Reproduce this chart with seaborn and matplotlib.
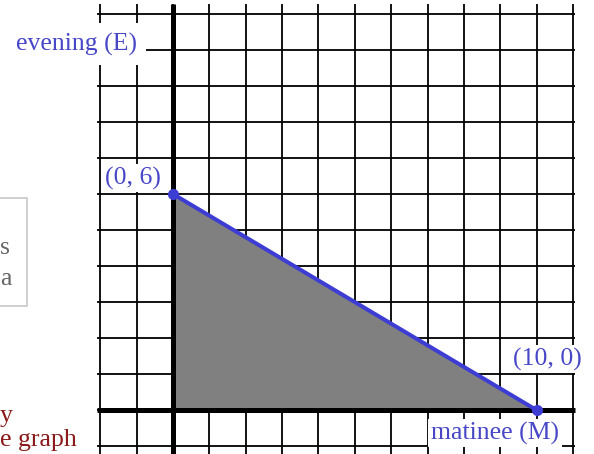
import matplotlib
matplotlib.use("Agg")
import matplotlib.pyplot as plt
import matplotlib.patches as mpatches
import seaborn as sns
import pandas as pd

# ---- data ----
matinee = [0, 10]          # M values of the boundary line endpoints
evening = [6, 0]           # E values of the boundary line endpoints
point_labels = ["(0, 6)", "(10, 0)"]
grid_x = list(range(-2, 12))
grid_y = list(range(-1, 12))
x_label = "matinee (M)"
y_label = "evening (E)"

sns.set_theme(style="white")
plt.rcParams['font.family'] = ['Liberation Serif', 'DejaVu Serif']

W, H = 594, 454
fig = plt.figure(figsize=(W / 100, H / 100), dpi=100)
ax = fig.add_axes([0, 0, 1, 1])
ax.set_xlim(-4.76, 11.58)
ax.set_ylim(-1.22, 11.39)
ax.axis("off")

def fx(px):
    return px / W

def fy(py):
    return 1 - py / H

# grid
for gx in grid_x:
    ax.plot([gx, gx], [-1.5, 11.28], color="black", lw=1.3, zorder=1,
            solid_capstyle="butt")
for gy in grid_y:
    ax.plot([-2.08, 11.06], [gy, gy], color="black", lw=1.3, zorder=1,
            solid_capstyle="butt")

# shaded feasible region
ax.fill_between(matinee, evening, 0, color="#808080", zorder=2, lw=0)

# thick axes
ax.plot([0, 0], [-1.5, 11.28], color="black", lw=3.6, zorder=3,
        solid_capstyle="butt")
ax.plot([-2.08, 11.06], [0, 0], color="black", lw=3.6, zorder=3,
        solid_capstyle="butt")

# boundary line
df = pd.DataFrame({"M": matinee, "E": evening})
blue = "#3d3dd4"
sns.lineplot(data=df, x="M", y="E", ax=ax, color=blue, lw=2.9, zorder=4,
             marker="o", markersize=8, markeredgewidth=0, legend=False)

txt_color = "#4747c8"
fs = 18.5
box = dict(facecolor="white", edgecolor="none", pad=2)
fig.text(fx(76), fy(44), y_label, color=txt_color, fontsize=fs,
         ha="center", va="center",
         bbox=dict(facecolor="white", edgecolor="none", pad=7))
fig.text(fx(133), fy(178), point_labels[0], color=txt_color, fontsize=fs,
         ha="center", va="center", bbox=box)
fig.text(fx(547), fy(359), point_labels[1], color=txt_color, fontsize=fs,
         ha="center", va="center", bbox=box)
fig.text(fx(495), fy(433), x_label, color=txt_color, fontsize=fs,
         ha="center", va="center", bbox=box)

# page artifacts on the left
rect = mpatches.Rectangle((fx(-5), fy(306)), fx(32), (306 - 198) / H,
                          transform=fig.transFigure, facecolor="white",
                          edgecolor="#c8c8c8", lw=1.2, zorder=5)
fig.patches.append(rect)
fig.text(fx(0), fy(248), "s", color="#666666", fontsize=fs,
         ha="left", va="center", zorder=6)
fig.text(fx(0), fy(279), "a", color="#666666", fontsize=fs,
         ha="left", va="center", zorder=6)
fig.text(fx(0), fy(416), "y", color="#8b1a1a", fontsize=fs,
         ha="left", va="center")
fig.text(fx(0), fy(440), "e graph", color="#8b1a1a", fontsize=fs,
         ha="left", va="center")

fig.savefig("out.png", dpi=100)
